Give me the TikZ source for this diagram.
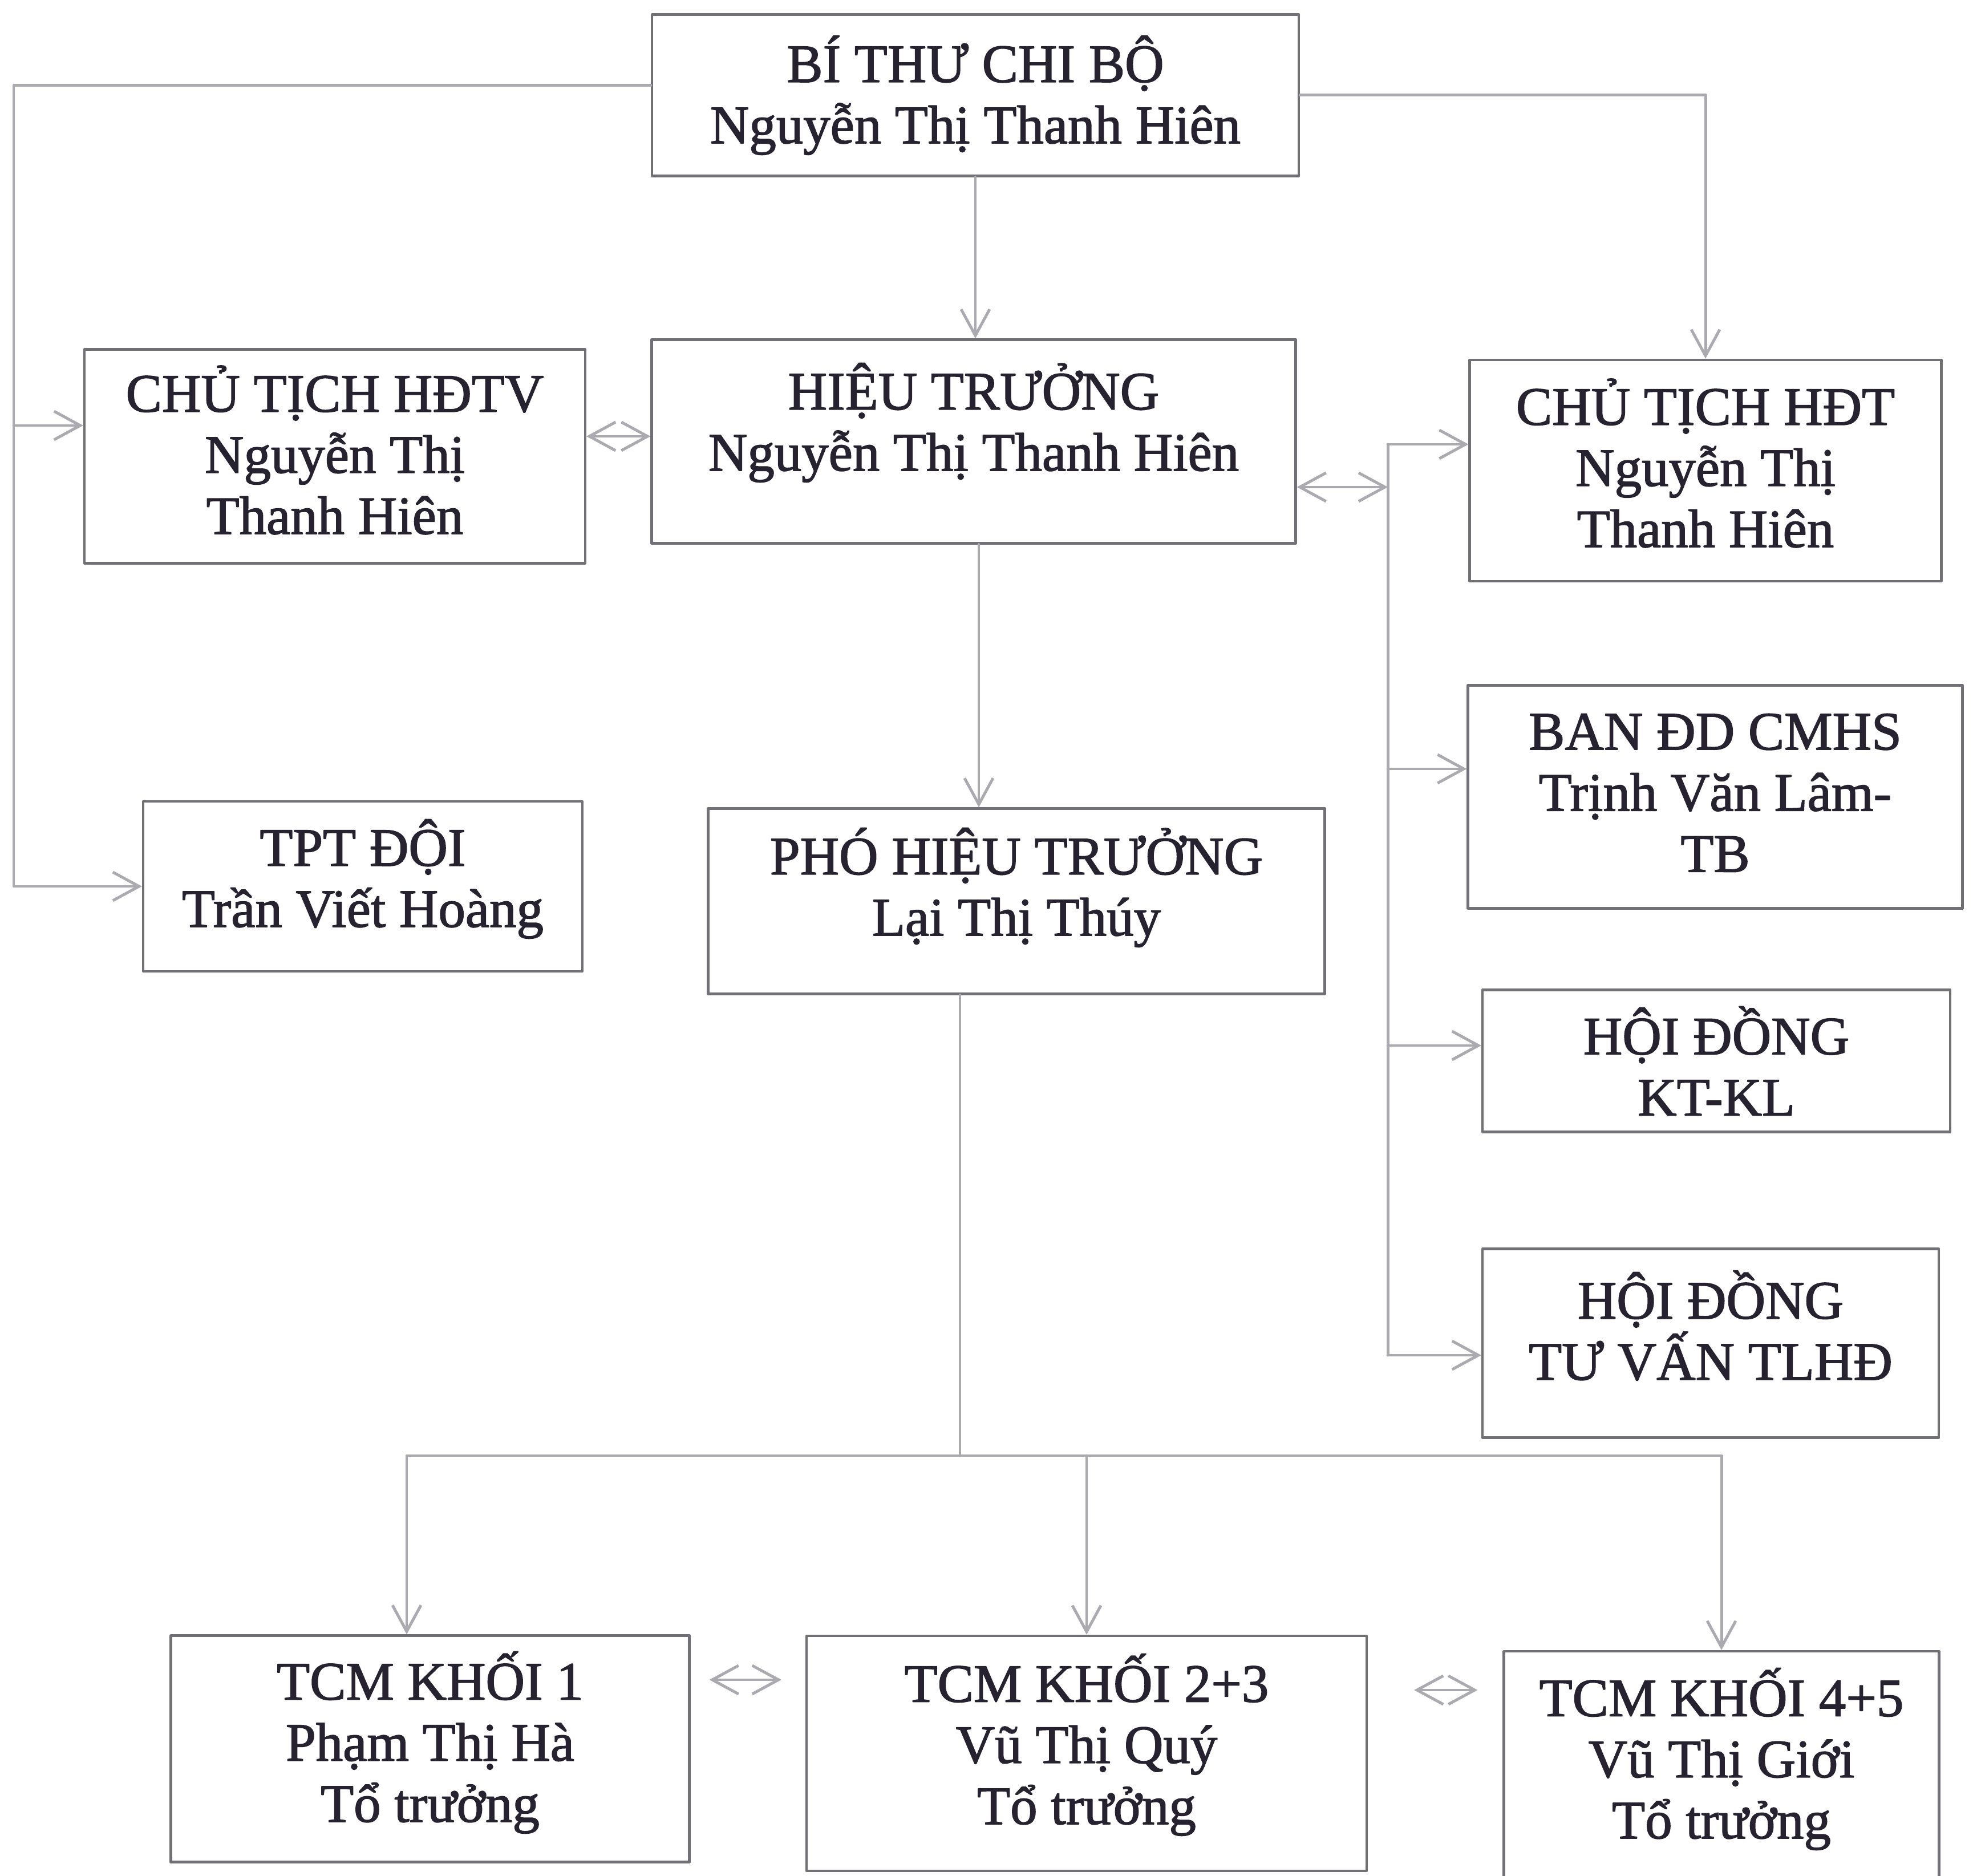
\documentclass[tikz,border=0pt]{standalone}
\usepackage{fontspec}
\setmainfont{Liberation Serif}[RawFeature={embolden=1.6}]
\usetikzlibrary{arrows.meta}
\definecolor{ink}{RGB}{38,34,48}
\definecolor{boxgray}{RGB}{112,112,118}
\definecolor{linkgray}{RGB}{170,170,176}

\begin{document}
\begin{tikzpicture}[line cap=round,line join=round,>={Straight Barb[length=4.6mm,width=5mm]},x=1cm,y=1cm,
	box/.style={draw=boxgray,line width=1.2pt,inner sep=0pt},
	txt/.style={align=center,text=ink,font=\fontsize{27}{30.5}\selectfont},
	link/.style={draw=linkgray,line width=1.4pt}]
	\useasboundingbox (0,0) rectangle (34.59,32.88);
	
	\node[box,minimum width=11.34cm,minimum height=2.83cm,label={[txt]center:{BÍ THƯ CHI BỘ\\Nguyễn Thị Thanh Hiên}}] (bithu) at (17.10,31.21) {};
	\node[box,minimum width=11.29cm,minimum height=3.57cm,label={[txt,yshift=3.3mm]center:{HIỆU TRƯỞNG\\Nguyễn Thị Thanh Hiên}}] (hieutruong) at (17.07,25.14) {};
	\node[box,minimum width=8.78cm,minimum height=3.75cm,label={[txt,yshift=1.1mm]center:{CHỦ TỊCH HĐTV\\Nguyễn Thị\\Thanh Hiên}}] (cthdtv) at (5.87,24.88) {};
	\node[box,minimum width=8.27cm,minimum height=3.88cm,label={[txt,yshift=1.3mm]center:{CHỦ TỊCH HĐT\\Nguyễn Thị\\Thanh Hiên}}] (cthdt) at (29.90,24.63) {};
	\node[box,minimum width=8.67cm,minimum height=3.91cm,label={[txt,yshift=0.7mm]center:{BAN ĐD CMHS\\Trịnh Văn Lâm-\\TB}}] (bancmhs) at (30.07,18.91) {};
	\node[box,minimum width=8.20cm,minimum height=2.49cm,label={[txt]center:{HỘI ĐỒNG\\KT-KL}}] (ktkl) at (30.09,14.28) {};
	\node[box,minimum width=8.00cm,minimum height=3.31cm,label={[txt,yshift=3.1mm]center:{HỘI ĐỒNG\\TƯ VẤN TLHĐ}}] (tuvan) at (29.99,9.33) {};
	\node[box,minimum width=7.70cm,minimum height=2.98cm,label={[txt,yshift=1.3mm]center:{TPT ĐỘI\\Trần Viết Hoàng}}] (tpt) at (6.36,17.34) {};
	\node[box,minimum width=10.81cm,minimum height=3.25cm,label={[txt,yshift=2.4mm]center:{PHÓ HIỆU TRƯỞNG\\Lại Thị Thúy}}] (phoht) at (17.82,17.08) {};
	\node[box,minimum width=9.09cm,minimum height=3.97cm,label={[txt,yshift=1.1mm]center:{TCM KHỐI 1\\Phạm Thị Hà\\Tổ trưởng}}] (tcm1) at (7.54,2.22) {};
	\node[box,minimum width=9.82cm,minimum height=4.12cm,label={[txt,yshift=1.5mm]center:{TCM KHỐI 2+3\\Vũ Thị Quý\\Tổ trưởng}}] (tcm23) at (19.05,2.14) {};
	\node[box,minimum width=7.63cm,minimum height=4.00cm,label={[txt,yshift=1.1mm]center:{TCM KHỐI 4+5\\Vũ Thị Giới\\Tổ trưởng}}] (tcm45) at (30.18,1.93) {};
	
	% rails and bend points
	\coordinate (railL) at (0.24,0);
	\coordinate (railR) at (24.33,0);
	\coordinate (bus) at (0,7.36);
	\coordinate (btOutL) at ([yshift=1.7mm]bithu.west);
	\coordinate (hdtvIn) at ([yshift=5.4mm]cthdtv.west);
	\coordinate (pairA) at ([yshift=3.5mm]cthdtv.east);
	\coordinate (htOut) at ([yshift=-8mm]hieutruong.east);
	\coordinate (hdtIn) at ([yshift=4.6mm]cthdt.west);
	\coordinate (banIn) at ([yshift=4.9mm]bancmhs.west);
	\coordinate (ktklIn) at ([yshift=2.7mm]ktkl.west);
	\coordinate (tuvanIn) at ([yshift=-2.1mm]tuvan.west);
	\coordinate (phoOut) at ([xshift=-9.9mm]phoht.south);
	\coordinate (tcm1In) at ([xshift=-4.1mm]tcm1.north);
	\coordinate (pairB) at ([xshift=3.3mm,yshift=12.1mm]tcm1.east);
	\coordinate (pairC) at ([xshift=8.1mm,yshift=11.1mm]tcm23.east);
	
	\draw[link,->] (btOutL) -| (railL |- tpt.west) -- (tpt.west);
	\draw[link,->] (railL |- hdtvIn) -- (hdtvIn);
	\draw[link,->] (bithu.east) -| (cthdt.north);
	\draw[link,->] (bithu.south) -- (bithu.south |- hieutruong.north);
	\draw[link,<->] (pairA) -- (pairA -| hieutruong.west);
	
	\draw[link,<->] (htOut) -- (railR |- htOut);
	\draw[link] (railR |- hdtIn) -- (railR |- tuvanIn);
	\draw[link,->] (railR |- hdtIn) -- (hdtIn);
	\draw[link,->] (railR |- banIn) -- (banIn);
	\draw[link,->] (railR |- ktklIn) -- (ktklIn);
	\draw[link,->] (railR |- tuvanIn) -- (tuvanIn);
	
	\draw[link,->] ([xshift=0.9mm]hieutruong.south) -- ([xshift=0.9mm]hieutruong.south |- phoht.north);
	\draw[link] (phoOut) -- (phoOut |- bus);
	\draw[link,->] (phoOut |- bus) -| (tcm1In);
	\draw[link,->] (phoOut |- bus) -| (tcm45.north);
	\draw[link,->] (tcm23.north |- bus) -- (tcm23.north);
	
	\draw[link,<->,shorten >=4.2mm] (pairB) -- (pairB -| tcm23.west);
	\draw[link,<->,shorten >=4.4mm] (pairC) -- (pairC -| tcm45.west);
\end{tikzpicture}
\end{document}
